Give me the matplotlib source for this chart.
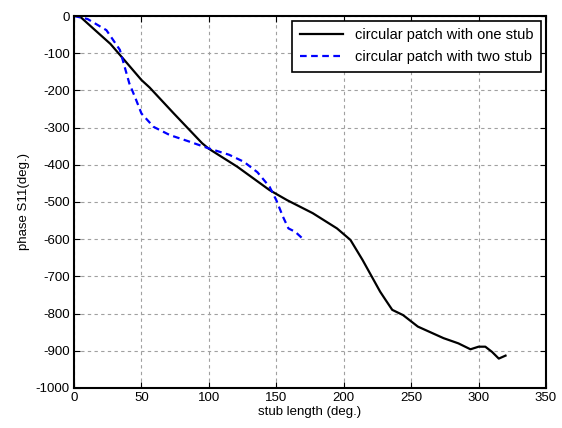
import matplotlib
matplotlib.use("Agg")
import matplotlib.pyplot as plt

# circular patch with one stub
one_x = [4, 15, 27, 37, 50, 56, 74, 95, 100, 121, 145, 158, 177, 195, 205, 214,
         227, 231, 236, 244, 255, 274, 285, 294, 300, 305, 310, 315, 320]
one_y = [0, -36, -75, -117, -172, -192, -262, -342, -357, -405, -468, -495, -530,
         -571, -602, -656, -741, -763, -790, -804, -835, -866, -880, -896, -889,
         -889, -903, -921, -913]

# circular patch with two stub
two_x = [0, 10, 24, 34, 41, 46, 50, 59, 71, 85, 100, 115, 126, 136, 145, 150,
         155, 159, 164, 170]
two_y = [0, -8, -38, -91, -181, -225, -262, -298, -320, -337, -356, -373, -392,
         -420, -459, -495, -540, -571, -580, -600]

x_ticks = [0, 50, 100, 150, 200, 250, 300, 350]
y_ticks = [0, -100, -200, -300, -400, -500, -600, -700, -800, -900, -1000]

plt.rcParams['font.family'] = ['Liberation Sans', 'DejaVu Sans']
plt.rcParams['axes.unicode_minus'] = False

fig = plt.figure(figsize=(5.62, 4.28), dpi=100)
ax = fig.add_axes([0.1317, 0.0935, 0.8398, 0.8691])

ax.plot(one_x, one_y, color='black', lw=1.6, label='circular patch with one stub')
ax.plot(two_x, two_y, color='blue', lw=1.6, ls='--', dashes=(3, 2),
        label='circular patch with two stub')

ax.set_xlim(0, 350)
ax.set_ylim(-1000, 0)
ax.set_xticks(x_ticks)
ax.set_yticks(y_ticks)
ax.tick_params(direction='in', top=True, right=True, labelsize=9.5, length=4, pad=3)
ax.grid(True, color='#a0a0a0', ls='--', dashes=(3, 3), lw=0.8)
for s in ax.spines.values():
    s.set_linewidth(1.5)

ax.set_xlabel('stub length (deg.)', fontsize=9.5, labelpad=1)
ax.set_ylabel('phase S11(deg.)', fontsize=9.5, labelpad=4)

leg = ax.legend(loc='upper right', fontsize=10.5, fancybox=False, framealpha=1,
                edgecolor='black', handlelength=3.0, borderaxespad=0.35,
                borderpad=0.5, labelspacing=0.55)
leg.get_frame().set_linewidth(1.2)

fig.savefig('out.png', dpi=100)
